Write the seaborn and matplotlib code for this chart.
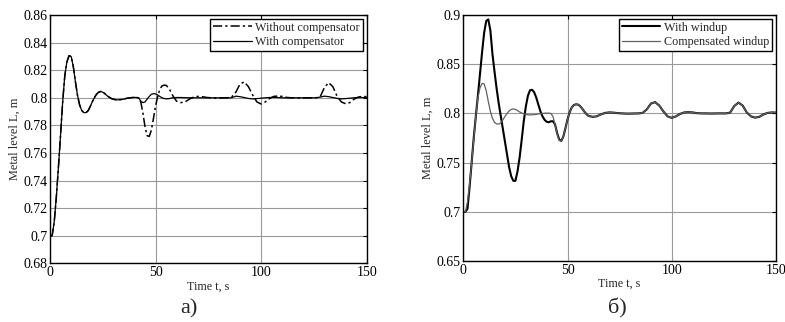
import numpy as np
import pandas as pd
import matplotlib
matplotlib.use('Agg')
import matplotlib.pyplot as plt
import seaborn as sns
from matplotlib.ticker import FuncFormatter

# Часова сітка, с
t = list(range(0, 61)) + list(range(62, 151, 2))

# а) з компенсатором
with_comp = [
    0.700, 0.700, 0.710, 0.728, 0.750, 0.773, 0.797, 0.816, 0.826, 0.8305,
    0.830, 0.823, 0.812, 0.802, 0.795, 0.7908, 0.7893, 0.7892, 0.7905, 0.7935,
    0.797, 0.800, 0.8025, 0.804, 0.8046, 0.804, 0.803, 0.8015, 0.8005, 0.7995,
    0.799, 0.7986, 0.7985, 0.7986, 0.7988, 0.799, 0.7995, 0.7998, 0.800, 0.8002,
    0.8003, 0.8002, 0.800, 0.7975, 0.7965, 0.797, 0.799, 0.801, 0.8025, 0.803,
    0.8028, 0.802, 0.801, 0.800, 0.7995, 0.7992, 0.7993, 0.7996, 0.800, 0.8001,
    0.8002,
    # 62..150 крок 2
    0.8002, 0.8001, 0.800, 0.800, 0.800, 0.800, 0.800, 0.800, 0.800, 0.800,
    0.800, 0.800, 0.800, 0.8012, 0.8008, 0.8002, 0.7995, 0.7992, 0.7994, 0.7997,
    0.800, 0.8002, 0.8003, 0.8002, 0.800, 0.800, 0.800, 0.800, 0.800, 0.800,
    0.800, 0.800, 0.800, 0.8005, 0.8012, 0.8008, 0.8002, 0.7996, 0.7992, 0.7994,
    0.7997, 0.800, 0.8002, 0.8002, 0.8001,
]

# а) без компенсатора (те саме, що й б) компенсований windup)
without_comp = [
    0.700, 0.700, 0.710, 0.728, 0.750, 0.773, 0.797, 0.816, 0.826, 0.8305,
    0.830, 0.823, 0.812, 0.802, 0.795, 0.7908, 0.7893, 0.7892, 0.7905, 0.7935,
    0.797, 0.800, 0.8025, 0.804, 0.8046, 0.804, 0.803, 0.8015, 0.8005, 0.7995,
    0.799, 0.7986, 0.7985, 0.7986, 0.7988, 0.799, 0.7995, 0.7998, 0.800, 0.8002,
    0.8003, 0.8002, 0.800, 0.797, 0.789, 0.779, 0.7725, 0.772, 0.7765, 0.785,
    0.794, 0.801, 0.806, 0.8085, 0.8092, 0.809, 0.8075, 0.805, 0.802, 0.7995,
    0.7975,
    # 62..150 крок 2
    0.7965, 0.797, 0.799, 0.8005, 0.801, 0.8008, 0.8003, 0.800, 0.7998, 0.7998,
    0.7999, 0.800, 0.8005, 0.804, 0.810, 0.8115, 0.808, 0.802, 0.797, 0.7955,
    0.797, 0.7995, 0.801, 0.8013, 0.801, 0.8003, 0.800, 0.800, 0.7999, 0.7999,
    0.800, 0.800, 0.800, 0.8008, 0.8075, 0.811, 0.808, 0.801, 0.797, 0.7957,
    0.7965, 0.799, 0.8005, 0.801, 0.8008,
]

# б) з windup
with_windup = [
    0.700, 0.700, 0.703, 0.725, 0.750, 0.775, 0.797, 0.818, 0.840, 0.862,
    0.882, 0.894, 0.8955, 0.884, 0.860, 0.842, 0.825, 0.810, 0.797, 0.784,
    0.771, 0.758, 0.745, 0.736, 0.7315, 0.7315, 0.741, 0.755, 0.773, 0.792,
    0.807, 0.818, 0.8235, 0.824, 0.8215, 0.816, 0.809, 0.802, 0.797, 0.7935,
    0.7915, 0.791, 0.792, 0.792, 0.789, 0.780, 0.7735, 0.772, 0.7765, 0.785,
    0.794, 0.801, 0.806, 0.8085, 0.8092, 0.809, 0.8075, 0.805, 0.802, 0.7995,
    0.7975,
    # 62..150 крок 2
    0.7965, 0.797, 0.799, 0.8005, 0.801, 0.8008, 0.8003, 0.800, 0.7998, 0.7998,
    0.7999, 0.800, 0.8005, 0.804, 0.810, 0.8115, 0.808, 0.802, 0.797, 0.7955,
    0.797, 0.7995, 0.801, 0.8013, 0.801, 0.8003, 0.800, 0.800, 0.7999, 0.7999,
    0.800, 0.800, 0.800, 0.8008, 0.8075, 0.811, 0.808, 0.801, 0.797, 0.7957,
    0.7965, 0.799, 0.8005, 0.801, 0.8008,
]
compensated_windup = without_comp

yticks_a = [0.68, 0.70, 0.72, 0.74, 0.76, 0.78, 0.80, 0.82, 0.84, 0.86]
yticks_b = [0.65, 0.70, 0.75, 0.80, 0.85, 0.90]
xticks = [0, 50, 100, 150]

sns.set_style('white')
plt.rcParams['font.family'] = ['Liberation Serif', 'DejaVu Serif']

fig = plt.figure(figsize=(7.85, 3.22), dpi=100)
ax1 = fig.add_axes([0.0637, 0.1823, 0.4034, 0.771])
ax2 = fig.add_axes([0.5902, 0.1894, 0.3983, 0.764])

fmt = FuncFormatter(lambda v, p: '%g' % round(v, 3))


def style_axes(ax, yticks):
    ax.set_xlim(0, 150)
    ax.set_ylim(yticks[0], yticks[-1])
    ax.set_xticks(xticks)
    ax.set_yticks(yticks)
    ax.yaxis.set_major_formatter(fmt)
    ax.grid(True, color='#9a9a9a', linewidth=0.8)
    ax.tick_params(direction='in', length=3, width=0.8, labelsize=10,
                   top=True, right=True, pad=2, colors='black')
    for s in ax.spines.values():
        s.set_color('black')
        s.set_linewidth(1.0)
    ax.set_xlabel('Time t, s', fontsize=8.7, labelpad=1)
    ax.set_ylabel('Metal level L, m', fontsize=8.8, labelpad=2)


df = pd.DataFrame({'t': t, 'with_comp': with_comp, 'without_comp': without_comp,
                   'with_windup': with_windup, 'comp_windup': compensated_windup})

sns.lineplot(data=df, x='t', y='without_comp', ax=ax1, color='black', linewidth=1.1,
             label='Without compensator')
ax1.lines[-1].set_linestyle((0, (6, 2, 1.5, 2)))
sns.lineplot(data=df, x='t', y='with_comp', ax=ax1, color='black', linewidth=0.9,
             label='With compensator')
style_axes(ax1, yticks_a)

sns.lineplot(data=df, x='t', y='with_windup', ax=ax2, color='black', linewidth=1.5,
             label='With windup')
sns.lineplot(data=df, x='t', y='comp_windup', ax=ax2, color='#606060', linewidth=0.9,
             label='Compensated windup')
style_axes(ax2, yticks_b)

for ax in (ax1, ax2):
    leg = ax.legend(loc='upper right', fontsize=8.7, handlelength=3.2, handletextpad=0.3,
                    borderpad=0.25, labelspacing=0.2, borderaxespad=0.3,
                    fancybox=False, framealpha=1)
    leg.get_frame().set_edgecolor('black')
    leg.get_frame().set_linewidth(1.0)

fig.text(0.241, 0.025, 'a)', fontsize=16, ha='center')
fig.text(0.786, 0.025, 'б)', fontsize=16, ha='center')

fig.savefig('out.png', dpi=100)
